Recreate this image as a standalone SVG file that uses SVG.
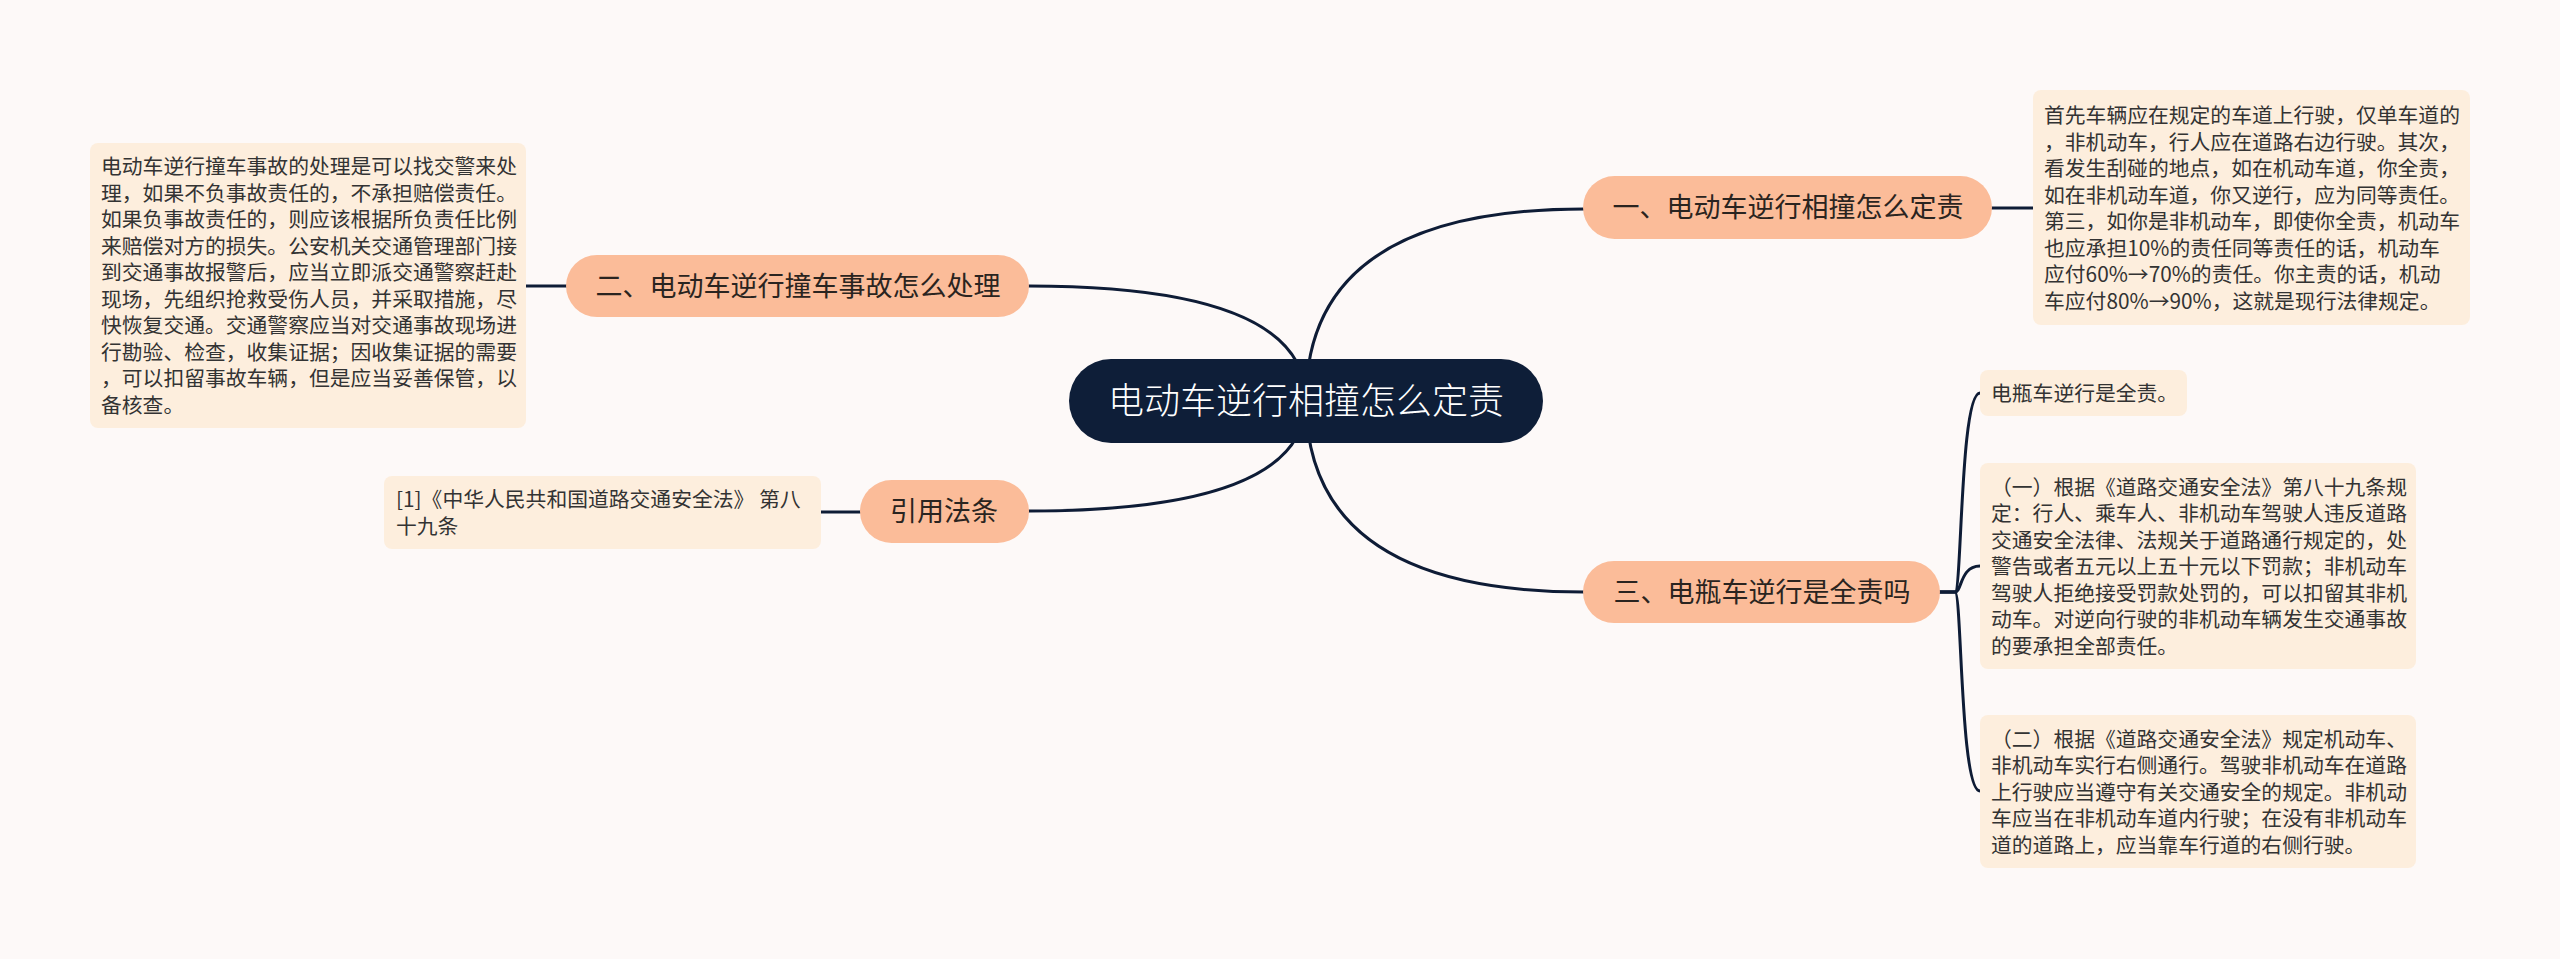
<svg xmlns="http://www.w3.org/2000/svg" width="2560" height="959" viewBox="0 0 2560 959">
<style>
.bg{fill:#fdf9f8}
.link{fill:none;stroke:#0e1c36;stroke-width:3;stroke-linecap:round}
.root{fill:#0e1e38}
.rootText{fill:#ffffff;font-family:"Noto Sans CJK SC","Noto Sans",sans-serif;font-size:36px;font-weight:300}
.topic{fill:#fbbc99}
.topicText{fill:#2a2420;font-family:"Noto Sans CJK SC","Noto Sans",sans-serif;font-size:27px}
.box{fill:#fdeedd}
.boxText{fill:#333333;font-family:"Noto Sans CJK SC","Noto Sans",sans-serif;font-size:20.8px}
</style>
<rect class="bg" x="0" y="0" width="2560" height="959"/>
<g id="connectors">
<path class="link" d="M1306,400 Q1306,209 1584,209"/>
<path class="link" d="M1306,400 Q1306,286 1029,286"/>
<path class="link" d="M1306,400 Q1306,511 1029,511"/>
<path class="link" d="M1306,400 Q1306,592 1584,592"/>
<path class="link" d="M1992,208 L2033,208"/>
<path class="link" d="M567,286 L526,286"/>
<path class="link" d="M860,512 L821,512"/>
<path class="link" d="M1940,592 H1955 C1962,592 1960,393 1980,393"/>
<path class="link" d="M1940,592 H1955 C1962,592 1960,566 1980,566"/>
<path class="link" d="M1940,592 H1955 C1962,592 1960,791 1980,791"/>
</g>
<g id="root">
<rect class="root" x="1069" y="359" width="474" height="84" rx="42"/>
<text class="rootText" x="1306" y="414" text-anchor="middle">电动车逆行相撞怎么定责</text>
</g>
<g id="topic1">
<rect class="topic" x="1583" y="176" width="409" height="63" rx="31.5"/>
<text class="topicText" x="1788" y="217" text-anchor="middle">一、电动车逆行相撞怎么定责</text>
</g>
<g id="topic2">
<rect class="topic" x="566" y="255" width="463" height="62" rx="31"/>
<text class="topicText" x="798" y="296" text-anchor="middle">二、电动车逆行撞车事故怎么处理</text>
</g>
<g id="topic3">
<rect class="topic" x="860" y="480" width="169" height="63" rx="31.5"/>
<text class="topicText" x="944" y="521" text-anchor="middle">引用法条</text>
</g>
<g id="topic4">
<rect class="topic" x="1583" y="561" width="357" height="62" rx="31"/>
<text class="topicText" x="1762" y="602" text-anchor="middle">三、电瓶车逆行是全责吗</text>
</g>
<g id="note1">
<rect class="box" x="2033" y="90" width="437" height="235" rx="8"/>
<text class="boxText">
<tspan x="2044" y="123">首先车辆应在规定的车道上行驶，仅单车道的</tspan>
<tspan x="2044" y="149.5">，非机动车，行人应在道路右边行驶。其次，</tspan>
<tspan x="2044" y="176">看发生刮碰的地点，如在机动车道，你全责，</tspan>
<tspan x="2044" y="202.5">如在非机动车道，你又逆行，应为同等责任。</tspan>
<tspan x="2044" y="229">第三，如你是非机动车，即使你全责，机动车</tspan>
<tspan x="2044" y="255.5">也应承担10%的责任同等责任的话，机动车</tspan>
<tspan x="2044" y="282">应付60%→70%的责任。你主责的话，机动</tspan>
<tspan x="2044" y="308.5">车应付80%→90%，这就是现行法律规定。</tspan>
</text>
</g>
<g id="note2">
<rect class="box" x="90" y="143" width="436" height="285" rx="8"/>
<text class="boxText">
<tspan x="101" y="174">电动车逆行撞车事故的处理是可以找交警来处</tspan>
<tspan x="101" y="200.5">理，如果不负事故责任的，不承担赔偿责任。</tspan>
<tspan x="101" y="227">如果负事故责任的，则应该根据所负责任比例</tspan>
<tspan x="101" y="253.5">来赔偿对方的损失。公安机关交通管理部门接</tspan>
<tspan x="101" y="280">到交通事故报警后，应当立即派交通警察赶赴</tspan>
<tspan x="101" y="306.5">现场，先组织抢救受伤人员，并采取措施，尽</tspan>
<tspan x="101" y="333">快恢复交通。交通警察应当对交通事故现场进</tspan>
<tspan x="101" y="359.5">行勘验、检查，收集证据；因收集证据的需要</tspan>
<tspan x="101" y="386">，可以扣留事故车辆，但是应当妥善保管，以</tspan>
<tspan x="101" y="412.5">备核查。</tspan>
</text>
</g>
<g id="note3">
<rect class="box" x="384" y="476" width="437" height="73" rx="8"/>
<text class="boxText">
<tspan x="396" y="507">[1]《中华人民共和国道路交通安全法》 第八</tspan>
<tspan x="396" y="533.5">十九条</tspan>
</text>
</g>
<g id="note4">
<rect class="box" x="1980" y="370" width="207" height="46" rx="8"/>
<text class="boxText" x="1991" y="401">电瓶车逆行是全责。</text>
</g>
<g id="note5">
<rect class="box" x="1980" y="463" width="436" height="206" rx="8"/>
<text class="boxText">
<tspan x="1991" y="494.5">（一）根据《道路交通安全法》第八十九条规</tspan>
<tspan x="1991" y="521">定：行人、乘车人、非机动车驾驶人违反道路</tspan>
<tspan x="1991" y="547.5">交通安全法律、法规关于道路通行规定的，处</tspan>
<tspan x="1991" y="574">警告或者五元以上五十元以下罚款；非机动车</tspan>
<tspan x="1991" y="600.5">驾驶人拒绝接受罚款处罚的，可以扣留其非机</tspan>
<tspan x="1991" y="627">动车。对逆向行驶的非机动车辆发生交通事故</tspan>
<tspan x="1991" y="653.5">的要承担全部责任。</tspan>
</text>
</g>
<g id="note6">
<rect class="box" x="1980" y="715" width="436" height="153" rx="8"/>
<text class="boxText">
<tspan x="1991" y="746.5">（二）根据《道路交通安全法》规定机动车、</tspan>
<tspan x="1991" y="773">非机动车实行右侧通行。驾驶非机动车在道路</tspan>
<tspan x="1991" y="799.5">上行驶应当遵守有关交通安全的规定。非机动</tspan>
<tspan x="1991" y="826">车应当在非机动车道内行驶；在没有非机动车</tspan>
<tspan x="1991" y="852.5">道的道路上，应当靠车行道的右侧行驶。</tspan>
</text>
</g>
</svg>
